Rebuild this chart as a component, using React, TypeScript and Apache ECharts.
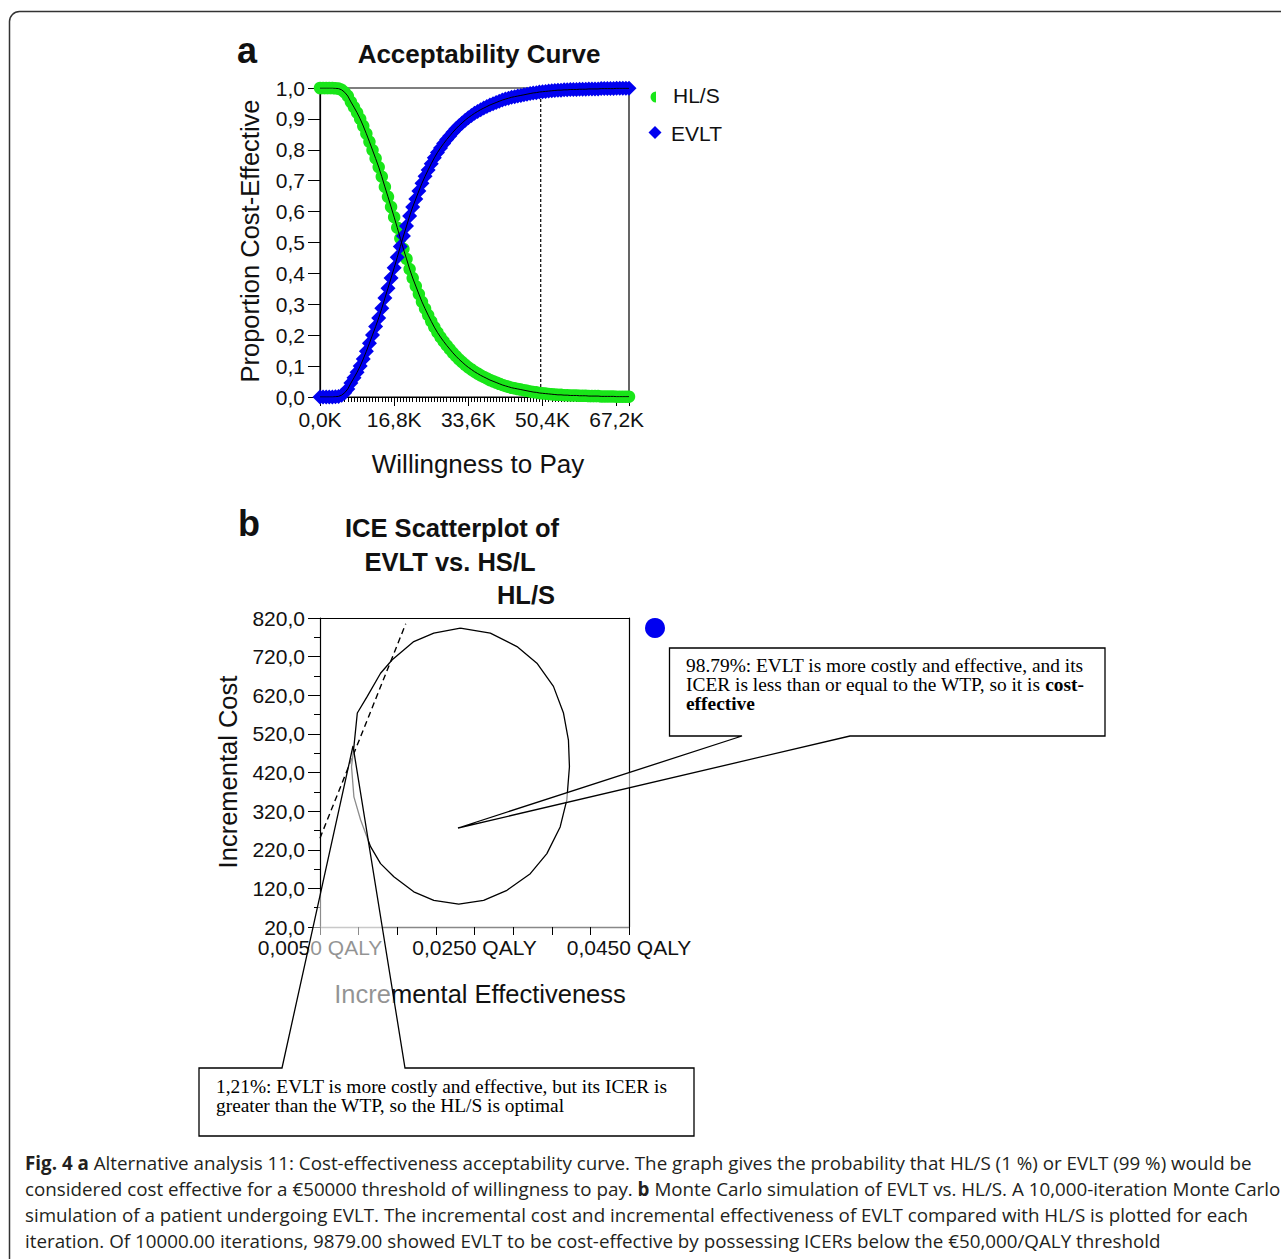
import React, { useEffect, useRef } from 'react';
import * as echarts from 'echarts';

// ---------- Data: (a) acceptability curve ----------
const WTP_STEP = 700; // € per step, 0 .. 70,000
const WTP_MAX = 70000;
const WTP_THRESHOLD = 50000;
const EVLT_PROB = [
  0.000, 0.000, 0.000, 0.000, 0.000, 0.001, 0.002, 0.006, 0.014, 0.026,
  0.045, 0.062, 0.080, 0.100, 0.123, 0.148, 0.174, 0.201, 0.228, 0.256,
  0.287, 0.320, 0.352, 0.385, 0.418, 0.452, 0.487, 0.521, 0.553, 0.586,
  0.615, 0.641, 0.667, 0.692, 0.714, 0.735, 0.755, 0.774, 0.791, 0.806,
  0.820, 0.833, 0.845, 0.857, 0.868, 0.878, 0.887, 0.896, 0.904, 0.911,
  0.918, 0.924, 0.930, 0.935, 0.940, 0.945, 0.949, 0.953, 0.957, 0.961,
  0.964, 0.967, 0.970, 0.972, 0.974, 0.976, 0.978, 0.980, 0.982, 0.984,
  0.985, 0.987, 0.988, 0.989, 0.990, 0.991, 0.992, 0.993, 0.993, 0.994,
  0.994, 0.995, 0.995, 0.995, 0.996, 0.996, 0.996, 0.997, 0.997, 0.997,
  0.997, 0.998, 0.998, 0.998, 0.998, 0.998, 0.999, 0.999, 0.999, 0.999,
  0.999,
];
const HLS_PROB = [
  1.000, 1.000, 1.000, 1.000, 1.000, 0.999, 0.998, 0.994, 0.986, 0.974,
  0.955, 0.938, 0.920, 0.900, 0.877, 0.852, 0.826, 0.799, 0.772, 0.744,
  0.713, 0.680, 0.648, 0.615, 0.582, 0.548, 0.513, 0.479, 0.447, 0.414,
  0.385, 0.359, 0.333, 0.308, 0.286, 0.265, 0.245, 0.226, 0.209, 0.194,
  0.180, 0.167, 0.155, 0.143, 0.132, 0.122, 0.113, 0.104, 0.096, 0.089,
  0.082, 0.076, 0.070, 0.065, 0.060, 0.055, 0.051, 0.047, 0.043, 0.039,
  0.036, 0.033, 0.030, 0.028, 0.026, 0.024, 0.022, 0.020, 0.018, 0.016,
  0.015, 0.013, 0.012, 0.011, 0.010, 0.009, 0.008, 0.007, 0.007, 0.006,
  0.006, 0.005, 0.005, 0.005, 0.004, 0.004, 0.004, 0.003, 0.003, 0.003,
  0.003, 0.002, 0.002, 0.002, 0.002, 0.002, 0.001, 0.001, 0.001, 0.001,
  0.001,
];

// ---------- Data: (b) ICE scatterplot ----------
const QALY_MIN = 0.005;
const QALY_MAX = 0.045;
const QALY_LABELS = [0.005, 0.025, 0.045];
const COST_MIN = 20;
const COST_MAX = 820;
// confidence ellipse outline (incremental QALY, incremental cost)
const ELLIPSE = [
  [0.02317, 794], [0.02705, 781], [0.0305, 746], [0.03308, 703], [0.03522, 643],
  [0.03652, 574], [0.03716, 504], [0.03729, 435], [0.03695, 349], [0.03609, 279],
  [0.03437, 210], [0.03222, 158], [0.0292, 115], [0.02618, 89], [0.02296, 79],
  [0.01973, 89], [0.01714, 111], [0.01456, 150], [0.01284, 184], [0.01155, 228],
  [0.01026, 297], [0.00939, 357], [0.00908, 435], [0.00939, 487], [0.00983, 574],
  [0.01112, 617], [0.01284, 677], [0.01435, 712], [0.01714, 759], [0.01973, 781],
  [0.02317, 794],
];
// WTP line (€50,000 / QALY)
const WTP_LINE = [[0.005, 250], [0.0161, 805]];

const SANS = 'Liberation Sans, Arial, sans-serif';
const SERIF = 'Liberation Serif, Times New Roman, serif';
const CAP = 'Open Sans, Noto Sans, sans-serif';
const CAP_SIZE = 18.8;
const SERIF_SIZE = 19.4;

const comma = (v: number, d: number) => v.toFixed(d).replace('.', ',');

function txt(x: number, y: number, text: string, o: any = {}) {
  const align = o.align || 'left';
  const va = o.va || 'middle';
  return {
    type: 'text',
    x,
    y,
    rotation: o.rotation || 0,
    z: o.z || 60,
    silent: true,
    style: {
      text,
      fontSize: o.size || 21,
      fontFamily: o.family || SANS,
      fontWeight: o.weight || 'normal',
      fill: o.color || '#111',
      align,
      textAlign: align,
      verticalAlign: va,
      textVerticalAlign: va,
      rich: o.rich,
    },
  };
}

export default function App() {
  const ref = useRef<HTMLDivElement>(null);

  useEffect(() => {
    if (!ref.current) return;
    const chart = echarts.init(ref.current, undefined, { renderer: 'svg' });

    const evlt = EVLT_PROB.map((v, i) => [i * WTP_STEP, v]);
    const hls = HLS_PROB.map((v, i) => [i * WTP_STEP, v]);

    const axisBlack = { show: true, lineStyle: { color: '#000', width: 1.2 } };
    const labelBase = { fontSize: 21, color: '#111', fontFamily: SANS };

    const richCap = {
      b: { fontWeight: 'bold', fontSize: CAP_SIZE, fontFamily: CAP, fill: '#231f20', color: '#231f20' },
    };
    const richSerif = {
      b: { fontWeight: 'bold', fontSize: SERIF_SIZE, fontFamily: SERIF, fill: '#000', color: '#000' },
    };

    const calloutStyle = { fill: 'rgba(255,255,255,0.55)', stroke: '#000', lineWidth: 1.3 };
    const serifOpt = { family: SERIF, size: SERIF_SIZE, color: '#000' };
    const capOpt = { family: CAP, size: CAP_SIZE, color: '#231f20' };

    const option: any = {
      animation: false,
      backgroundColor: '#fff',
      grid: [
        { left: 320, top: 88, width: 309, height: 309, show: true, borderColor: '#000', borderWidth: 1.2, backgroundColor: 'transparent' },
        { left: 320, top: 618, width: 309, height: 309 },
      ],
      xAxis: [
        {
          gridIndex: 0, type: 'value', min: 0, max: WTP_MAX, interval: 16800, position: 'bottom',
          axisLine: axisBlack,
          axisTick: { show: true, length: 9, lineStyle: { color: '#000', width: 1 } },
          axisLabel: { ...labelBase, margin: 12, formatter: (v: number) => (v > 69000 ? '' : comma(v / 1000, 1) + 'K') },
          splitLine: { show: false },
        },
        {
          gridIndex: 0, type: 'value', min: 0, max: WTP_MAX, interval: WTP_STEP, position: 'bottom',
          axisLine: { show: false },
          axisTick: { show: true, length: 5, lineStyle: { color: '#000', width: 1 } },
          axisLabel: { show: false },
          splitLine: { show: false },
        },
        {
          gridIndex: 1, type: 'value', min: QALY_MIN, max: QALY_MAX, interval: 0.005, position: 'bottom',
          axisLine: { show: true, lineStyle: { color: '#888', width: 1.4 } },
          axisTick: { show: true, length: 8, lineStyle: { color: '#000', width: 1 } },
          axisLabel: {
            ...labelBase, margin: 10,
            formatter: (v: number) =>
              QALY_LABELS.some((q) => Math.abs(q - v) < 1e-7) ? comma(v, 4) + ' QALY' : '',
          },
          splitLine: { show: false },
        },
        {
          gridIndex: 1, type: 'value', min: QALY_MIN, max: QALY_MAX, position: 'top',
          axisLine: axisBlack, axisTick: { show: false }, axisLabel: { show: false }, splitLine: { show: false },
        },
      ],
      yAxis: [
        {
          gridIndex: 0, type: 'value', min: 0, max: 1, interval: 0.1, position: 'left',
          axisLine: axisBlack,
          axisTick: { show: true, length: 12, lineStyle: { color: '#000', width: 1 } },
          axisLabel: { ...labelBase, margin: 15, formatter: (v: number) => comma(v, 1) },
          splitLine: { show: false },
        },
        {
          gridIndex: 1, type: 'value', min: COST_MIN, max: COST_MAX, interval: 100, position: 'left',
          axisLine: axisBlack,
          axisTick: { show: true, length: 12, lineStyle: { color: '#000', width: 1 } },
          minorTick: { show: true, splitNumber: 2, length: 6, lineStyle: { color: '#000', width: 1 } },
          axisLabel: { ...labelBase, margin: 15, formatter: (v: number) => comma(v, 1) },
          splitLine: { show: false },
          minorSplitLine: { show: false },
        },
        {
          gridIndex: 1, type: 'value', min: COST_MIN, max: COST_MAX, position: 'right',
          axisLine: axisBlack, axisTick: { show: false }, axisLabel: { show: false }, splitLine: { show: false },
        },
      ],
      series: [
        {
          name: 'HL/S', type: 'scatter', xAxisIndex: 0, yAxisIndex: 0, data: hls,
          symbol: 'circle', symbolSize: 12.5, clip: false, z: 2,
          itemStyle: { color: '#19e619', opacity: 1 },
        },
        {
          name: 'EVLT', type: 'scatter', xAxisIndex: 0, yAxisIndex: 0, data: evlt,
          symbol: 'diamond', symbolSize: 15, clip: false, z: 3,
          itemStyle: { color: '#0000f0', opacity: 1 },
        },
        {
          type: 'line', xAxisIndex: 0, yAxisIndex: 0, data: hls, showSymbol: false, symbol: 'none', z: 4,
          lineStyle: { color: '#000', width: 1 },
        },
        {
          type: 'line', xAxisIndex: 0, yAxisIndex: 0, data: evlt, showSymbol: false, symbol: 'none', z: 4,
          lineStyle: { color: '#000', width: 1 },
        },
        {
          type: 'line', xAxisIndex: 0, yAxisIndex: 0, data: [[WTP_THRESHOLD, 0], [WTP_THRESHOLD, 1]],
          showSymbol: false, symbol: 'none', z: 1,
          lineStyle: { color: '#000', width: 1.2, type: [3, 2] },
        },
        {
          type: 'line', xAxisIndex: 2, yAxisIndex: 1, data: ELLIPSE, showSymbol: false, symbol: 'none', z: 3,
          lineStyle: { color: '#000', width: 1.3 },
        },
        {
          type: 'line', xAxisIndex: 2, yAxisIndex: 1, data: WTP_LINE, showSymbol: false, symbol: 'none', z: 3,
          lineStyle: { color: '#000', width: 1.4, type: [6, 4] },
        },
      ],
      graphic: [
        {
          type: 'rect', z: 0, silent: true,
          shape: { x: 9.5, y: 11.5, width: 1330, height: 1330, r: 10 },
          style: { fill: 'none', stroke: '#333', lineWidth: 1.5 },
        },
        txt(237, 50, 'a', { size: 36, weight: 'bold' }),
        txt(238, 523, 'b', { size: 36, weight: 'bold' }),
        txt(479, 54, 'Acceptability Curve', { size: 26, weight: 'bold', align: 'center' }),
        txt(452, 528, 'ICE Scatterplot of', { size: 25.5, weight: 'bold', align: 'center' }),
        txt(450, 562, 'EVLT vs. HS/L', { size: 25.5, weight: 'bold', align: 'center' }),
        txt(526, 595, 'HL/S', { size: 25.5, weight: 'bold', align: 'center' }),
        txt(478, 464, 'Willingness to Pay', { size: 26, align: 'center' }),
        txt(250, 241, 'Proportion Cost-Effective', { size: 25.5, align: 'center', rotation: Math.PI / 2 }),
        txt(480, 994, 'Incremental Effectiveness', { size: 25.5, align: 'center', z: 40 }),
        txt(228, 772, 'Incremental Cost', { size: 25.5, align: 'center', rotation: Math.PI / 2 }),
        // legend
        {
          type: 'sector', z: 60, silent: true,
          shape: { cx: 656, cy: 97, r0: 0, r: 5.5, startAngle: Math.PI / 2, endAngle: (3 * Math.PI) / 2, clockwise: true },
          style: { fill: '#19e619' },
        },
        {
          type: 'polygon', z: 60, silent: true,
          shape: { points: [[655, 126], [661.5, 132.5], [655, 139], [648.5, 132.5]] },
          style: { fill: '#0000f0' },
        },
        txt(673, 95, 'HL/S', { size: 21 }),
        txt(671, 133, 'EVLT', { size: 21 }),
        {
          type: 'circle', z: 60, silent: true,
          shape: { cx: 655, cy: 628, r: 10 },
          style: { fill: '#0000f0' },
        },
        // callouts
        {
          type: 'polygon', z: 50, silent: true,
          shape: { points: [[669.5, 648], [1105, 648], [1105, 736], [850, 736], [458, 828], [742, 736], [669.5, 736]] },
          style: calloutStyle,
        },
        txt(686, 665, '98.79%: EVLT is more costly and effective, and its', serifOpt),
        txt(686, 684, 'ICER is less than or equal to the WTP, so it is {b|cost-}', { ...serifOpt, rich: richSerif }),
        txt(686, 703, '{b|effective}', { ...serifOpt, rich: richSerif }),
        {
          type: 'polygon', z: 50, silent: true,
          shape: { points: [[199, 1068], [282, 1068], [353, 746], [405, 1068], [694, 1068], [694, 1136], [199, 1136]] },
          style: calloutStyle,
        },
        txt(216, 1086, '1,21%: EVLT is more costly and effective, but its ICER is', serifOpt),
        txt(216, 1105, 'greater than the WTP, so the HL/S is optimal', serifOpt),
        // caption
        txt(25, 1163, '{b|Fig. 4 a} Alternative analysis 11: Cost-effectiveness acceptability curve. The graph gives the probability that HL/S (1 %) or EVLT (99 %) would be', { ...capOpt, rich: richCap }),
        txt(25, 1189, 'considered cost effective for a €50000 threshold of willingness to pay. {b|b} Monte Carlo simulation of EVLT vs. HL/S. A 10,000-iteration Monte Carlo', { ...capOpt, rich: richCap }),
        txt(25, 1215, 'simulation of a patient undergoing EVLT. The incremental cost and incremental effectiveness of EVLT compared with HL/S is plotted for each', capOpt),
        txt(25, 1241, 'iteration. Of 10000.00 iterations, 9879.00 showed EVLT to be cost-effective by possessing ICERs below the €50,000/QALY threshold', capOpt),
      ],
    };

    chart.setOption(option);
    return () => chart.dispose();
  }, []);

  return (
    <div
      ref={ref}
      style={{ position: 'absolute', left: 0, top: 0, width: 1281, height: 1259, background: '#fff' }}
    />
  );
}
